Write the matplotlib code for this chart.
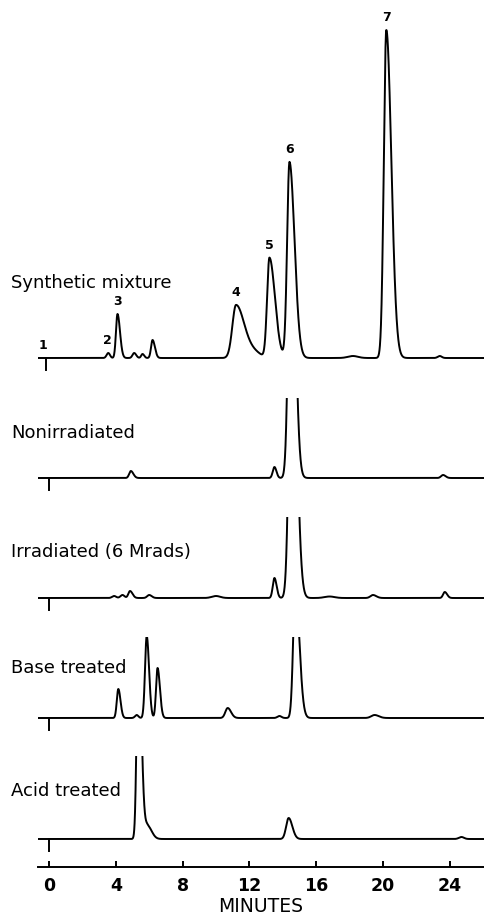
#
# chromatograms: synthetic mixture vs treated samples
#

import numpy as np
import matplotlib
matplotlib.use('Agg')
import matplotlib.pyplot as plt

# peak tables: retention time (min), height, left/right width
synth_t  = [3.55, 4.1, 5.1, 5.6, 6.2, 11.2, 12.3, 13.2, 14.4, 18.2, 20.2, 23.4]
synth_h  = [5, 44, 5, 4, 18, 53, 5, 100, 196, 2, 328, 2]
synth_sl = [0.1, 0.09, 0.1, 0.08, 0.09, 0.22, 0.4, 0.14, 0.14, 0.3, 0.15, 0.12]
synth_sr = [0.1, 0.15, 0.12, 0.1, 0.14, 0.5, 0.4, 0.33, 0.3, 0.3, 0.3, 0.12]
synth_ids   = ['1', '2', '3', '4', '5', '6', '7']
synth_id_t  = [-0.35, 3.47, 4.1, 11.2, 13.2, 14.4, 20.2]
synth_id_h  = [0, 5, 44, 53, 100, 196, 328]

non_t  = [4.9, 13.5, 14.5, 23.6]
non_h  = [7, 11, 300, 3]
non_sl = [0.1, 0.1, 0.16, 0.12]
non_sr = [0.15, 0.12, 0.24, 0.15]

irr_t  = [3.9, 4.4, 4.85, 6.0, 10.0, 13.5, 14.55, 16.8, 19.4, 23.7]
irr_h  = [2, 3, 7, 3, 2, 20, 320, 1.5, 3, 6]
irr_sl = [0.12, 0.12, 0.1, 0.12, 0.25, 0.1, 0.17, 0.3, 0.15, 0.1]
irr_sr = [0.12, 0.12, 0.15, 0.15, 0.25, 0.13, 0.27, 0.3, 0.2, 0.14]

base_t  = [4.15, 5.25, 5.85, 6.5, 10.7, 13.8, 14.75, 19.5]
base_h  = [29, 3, 82, 50, 10, 2, 130, 3]
base_sl = [0.09, 0.1, 0.1, 0.09, 0.14, 0.12, 0.13, 0.2]
base_sr = [0.13, 0.1, 0.14, 0.14, 0.2, 0.12, 0.24, 0.25]

acid_t  = [5.35, 5.9, 14.35, 24.7]
acid_h  = [200, 13, 21, 2]
acid_sl = [0.1, 0.15, 0.15, 0.15]
acid_sr = [0.18, 0.25, 0.22, 0.15]

names = ['Synthetic mixture', 'Nonirradiated', 'Irradiated (6 Mrads)',
         'Base treated', 'Acid treated']
tick_vals = [0, 4, 8, 12, 16, 20, 24]

# layout in pixels (figure is 484 x 916)
W, H = 484, 916
baselines = [358, 478, 598, 718, 839]
tops = [345, 80, 81, 81, 83]
name_y = [288, 438, 557, 673, 796]
start_x = [-0.2, 0, 0, 0, 0]   # injection mark under each trace
xmin, xmax = -0.66, 26.05

t = np.linspace(xmin, xmax, 6000)


def trace(times, heights, sl, sr):
    y = np.zeros_like(t)
    for c, h, a, b in zip(times, heights, sl, sr):
        s = np.where(t < c, a, b)
        y += h * np.exp(-0.5 * ((t - c) / s) ** 2)
    return y


traces = [trace(synth_t, synth_h, synth_sl, synth_sr),
          trace(non_t, non_h, non_sl, non_sr),
          trace(irr_t, irr_h, irr_sl, irr_sr),
          trace(base_t, base_h, base_sl, base_sr),
          trace(acid_t, acid_h, acid_sl, acid_sr)]

fig = plt.figure(figsize=(W / 100, H / 100), dpi=100)
lw = 1.4
pad = 15

for i in range(5):
    yb = baselines[i]
    ax = fig.add_axes([38 / W, (H - (yb + pad)) / H, (W - 38) / W, (pad + tops[i]) / H])
    ax.set_xlim(xmin, xmax)
    ax.set_ylim(-pad, tops[i])
    ax.axis('off')
    ax.plot(t, traces[i], color='black', lw=lw, solid_joinstyle='round')
    ax.plot([start_x[i]] * 2, [0, -12], color='black', lw=lw)
    fig.text(11 / W, 1 - name_y[i] / H, names[i], fontsize=13, va='baseline',
             ha='left', family='DejaVu Sans')
    if i == 0:
        for lab, px, ph in zip(synth_ids, synth_id_t, synth_id_h):
            ax.text(px, ph + 6, lab, ha='center', va='bottom', fontsize=9,
                    fontweight='bold')

# time axis
axb = fig.add_axes([38 / W, (H - 867) / H, (W - 38) / W, 0.001])
axb.set_xlim(xmin, xmax)
axb.set_yticks([])
for s in ['top', 'left', 'right']:
    axb.spines[s].set_visible(False)
axb.spines['bottom'].set_linewidth(lw)
axb.set_xticks(tick_vals)
axb.set_xticklabels([str(v) for v in tick_vals], fontsize=12.5, fontweight='bold')
axb.tick_params(axis='x', direction='in', length=4, width=lw, pad=7)
axb.set_xlabel('MINUTES', fontsize=13.5, labelpad=2)

fig.savefig('out.png', dpi=100)
